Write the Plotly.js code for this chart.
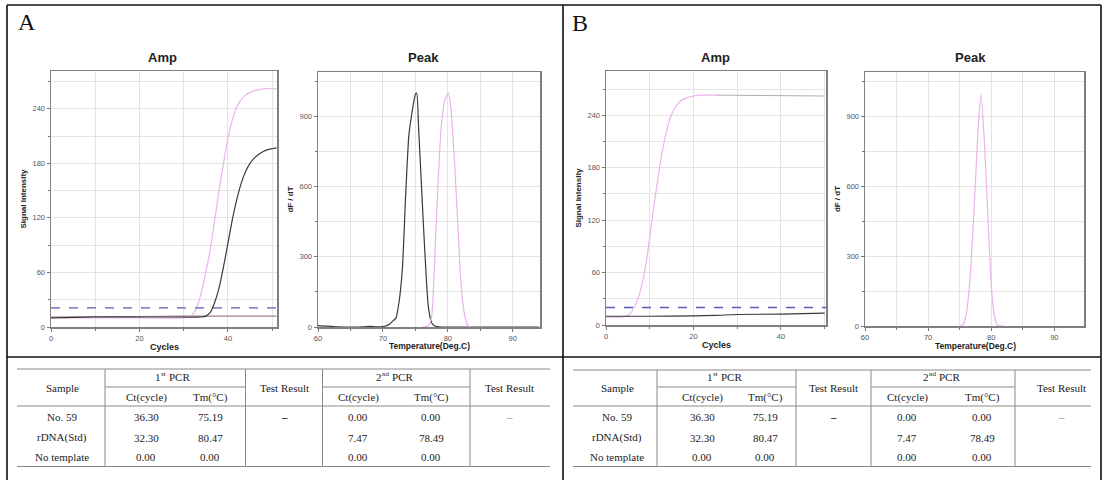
<!DOCTYPE html>
<html>
<head>
<meta charset="utf-8">
<script src="https://cdn.plot.ly/plotly-3.0.1.min.js"></script>
<style>html,body{margin:0;padding:0;background:#fff;}#chart{width:1108px;height:480px;}</style>
</head>
<body>
<div id="chart"></div>
<script>
// ---------------- DATA ----------------
// Panel A – Amp (cycles vs signal intensity)
const ampA_stdX = [0, 10, 20, 30, 31, 32, 33, 34, 35, 36, 37, 38, 39, 40, 41, 42, 43, 44, 45, 46, 47, 48, 49, 50, 51];
const ampA_stdY = [10, 10, 10, 10, 11, 14, 22, 38, 60, 85, 117, 150, 180, 207, 228, 242, 250, 255, 258, 260, 261, 262, 262, 262, 262];
const ampA_no59X = [0, 10, 20, 30, 34, 35, 36, 37, 38, 39, 40, 41, 42, 43, 44, 45, 46, 47, 48, 49, 50, 51];
const ampA_no59Y = [10, 11, 11, 11, 11, 12, 16, 27, 43, 66, 92, 118, 140, 158, 171, 180, 186, 190, 193, 195, 196, 197];
const ampA_ntcX = [0, 10, 20, 30, 40, 51];
const ampA_ntcY = [11, 11.5, 11.5, 12, 12, 12];
const ampA_thrX = [0, 51];
const ampA_thrY = [21, 21];

// Panel A – Peak (temperature vs dF/dT)
const peakA_no59X = [60, 61, 62, 63, 65, 67, 68, 69, 70, 70.5, 71, 71.5, 72, 72.5, 73, 73.5, 74, 74.5, 75, 75.2, 75.5, 76, 76.5, 77, 77.5, 78, 79, 85, 94];
const peakA_no59Y = [6, 4, 3, 1, 0, 1, 3, 1, 2, 5, 12, 25, 38, 110, 250, 560, 820, 920, 995, 1000, 850, 570, 300, 86, 18, 4, 0, 0, 0];
const peakA_stdX = [76, 77, 77.5, 78, 78.5, 79, 79.5, 80.1, 80.5, 81, 81.5, 82, 82.5, 83, 83.5];
const peakA_stdY = [0, 5, 45, 300, 620, 860, 965, 1000, 930, 720, 460, 200, 65, 10, 0];

// Panel B – Amp
const ampB_stdX = [0, 3, 4, 5, 6, 7, 8, 9, 10, 11, 12, 13, 14, 15, 16, 17, 18, 20, 22, 25];
const ampB_stdY = [9, 9, 9.5, 11, 16, 26, 42, 66, 100, 138, 172, 202, 225, 241, 250, 256, 259, 262, 263, 263];
const ampB_tailX = [25, 50];
const ampB_tailY = [263, 262];
const ampB_no59X = [0, 10, 20, 25, 30, 40, 50];
const ampB_no59Y = [10, 10, 10.5, 11, 12, 12.5, 13.5];
const ampB_thrX = [0, 50.3];
const ampB_thrY = [20, 20];

// Panel B – Peak
const peakB_stdX = [75, 75.5, 76, 76.5, 77, 77.5, 78, 78.4, 78.9, 79.4, 79.9, 80.4, 81, 82];
const peakB_stdY = [0, 5, 45, 155, 360, 620, 880, 995, 800, 511, 225, 60, 3, 0];

// Tables (identical in A and B)
const tableSamples = ["No. 59", "rDNA(Std)", "No template"];
const ct1 = ["36.30", "32.30", "0.00"];
const tm1 = ["75.19", "80.47", "0.00"];
const result1 = ["\u2013", "", ""];
const ct2 = ["0.00", "7.47", "0.00"];
const tm2 = ["0.00", "78.49", "0.00"];
const result2 = ["\u2013", "", ""];
const panelLabels = ["A", "B"];

// ---------------- LAYOUT HELPERS ----------------
const W = 1108, H = 480;
const px = x => x / W;
const py = y => 1 - y / H;

const PINK = '#ebb3eb', BLACK = '#3a3a3a', THR = '#5a5ab8', NTC = '#a08585';
const SANS = 'Liberation Sans, Arial, sans-serif';
const SERIF = 'Liberation Serif, Times New Roman, serif';

function axis(x0, x1, range, dtick, minor, tick0, anchor, isX, y0, y1, title) {
  const a = {
    domain: isX ? [px(x0), px(x1)] : [py(y1), py(y0)],
    range: range, dtick: dtick, tick0: tick0, tickmode: 'linear',
    showgrid: true, gridcolor: '#e4e4e4', gridwidth: 1,
    minor: {dtick: minor, tick0: tick0, showgrid: true, gridcolor: '#e4e4e4', ticks: 'outside', ticklen: 2, tickcolor: '#777'},
    ticks: 'outside', ticklen: 3, tickcolor: '#777',
    showline: true, linecolor: '#808080', linewidth: 1.5, mirror: true,
    zeroline: false, anchor: anchor, fixedrange: true, automargin: false,
    tickfont: {family: SANS, size: 7.5, color: '#555'}
  };
  if (title) a.title = {text: '<b>' + title + '</b>', font: {family: SANS, size: 8, color: '#222'}, standoff: 4};
  return a;
}

const ln = (x, y, xa, ya, color, width, dash) => ({
  x: x, y: y, xaxis: xa, yaxis: ya, mode: 'lines', hoverinfo: 'skip', showlegend: false,
  line: {color: color, width: width, shape: dash ? 'linear' : 'spline', smoothing: 0.6, dash: dash || 'solid'}
});

const traces = [
  ln(ampA_ntcX, ampA_ntcY, 'x', 'y', NTC, 1.1),
  ln(ampA_stdX, ampA_stdY, 'x', 'y', PINK, 1.2),
  ln(ampA_no59X, ampA_no59Y, 'x', 'y', BLACK, 1.2),
  ln(ampA_thrX, ampA_thrY, 'x', 'y', THR, 1.3, 'dash'),
  ln(peakA_no59X, peakA_no59Y, 'x2', 'y2', BLACK, 1.2),
  ln(peakA_stdX, peakA_stdY, 'x2', 'y2', PINK, 1.2),
  ln(ampB_tailX, ampB_tailY, 'x3', 'y3', '#b8a8b8', 1.0),
  ln(ampB_stdX, ampB_stdY, 'x3', 'y3', PINK, 1.2),
  ln(ampB_no59X, ampB_no59Y, 'x3', 'y3', BLACK, 1.2),
  ln(ampB_thrX, ampB_thrY, 'x3', 'y3', THR, 1.3, 'dash'),
  ln(peakB_stdX, peakB_stdY, 'x4', 'y4', PINK, 1.2)
];

const layout = {
  width: W, height: H, margin: {l: 0, r: 0, t: 0, b: 0},
  paper_bgcolor: '#fff', plot_bgcolor: '#fff', showlegend: false,
  xaxis:  axis(51, 277, [0, 51.1], 20, 10, 0, 'y', true),
  yaxis:  axis(0, 0, [0, 281.5], 60, 30, 0, 'x', false, 71, 327, 'Signal Intensity'),
  xaxis2: axis(318, 540, [60, 94.2], 10, 5, 60, 'y2', true),
  yaxis2: axis(0, 0, [0, 1090], 300, 150, 0, 'x2', false, 72, 327, 'dF / dT'),
  xaxis3: axis(606, 826, [0, 50.3], 20, 10, 0, 'y3', true),
  yaxis3: axis(0, 0, [0, 290.6], 60, 30, 0, 'x3', false, 71, 325, 'Signal Intensity'),
  xaxis4: axis(865, 1084, [60, 94.7], 10, 5, 60, 'y4', true),
  yaxis4: axis(0, 0, [0, 1092], 300, 150, 0, 'x4', false, 72, 326, 'dF / dT'),
  shapes: [], annotations: []
};

function hline(x0, x1, y, color, w) {
  layout.shapes.push({type: 'line', xref: 'paper', yref: 'paper', x0: px(x0), x1: px(x1), y0: py(y), y1: py(y), line: {color: color, width: w}});
}
function vline(x, y0, y1, color, w) {
  layout.shapes.push({type: 'line', xref: 'paper', yref: 'paper', x0: px(x), x1: px(x), y0: py(y0), y1: py(y1), line: {color: color, width: w}});
}
function text(t, x, y, size, opts) {
  opts = opts || {};
  layout.annotations.push({
    text: t, x: px(x), y: py(y), xref: 'paper', yref: 'paper', showarrow: false,
    xanchor: opts.xanchor || 'center', yanchor: opts.yanchor || 'middle', textangle: opts.angle || 0,
    borderpad: 0, borderwidth: 0,
    font: {family: opts.family || SERIF, size: size, color: opts.color || '#222'}
  });
}
function ordinalHeader(num, suf, cx, y, fs) {
  const sufW = suf === 'st' ? 5 : 7;
  text(num, cx - 14, y, fs, {xanchor: 'right'});
  text(suf, cx - 14, y - 3.5, 7, {xanchor: 'left'});
  text('PCR', cx - 14 + sufW + 3, y, fs, {xanchor: 'left'});
}

// Outer frame
hline(7, 1101, 5, '#111', 1.6);
hline(7, 1101, 357, '#111', 1.6);
vline(7, 5, 480, '#111', 1.6);
vline(563, 5, 480, '#111', 1.6);
vline(1101, 5, 480, '#111', 1.6);

// Panel labels
text(panelLabels[0], 18, 22, 24, {xanchor: 'left', color: '#111'});
text(panelLabels[1], 572, 23, 24, {xanchor: 'left', color: '#111'});

// Chart titles and x-axis titles
const titleFont = {family: SANS, color: '#222'};
text('<b>Amp</b>', 162, 57, 13, titleFont);
text('<b>Peak</b>', 423, 57, 13, titleFont);
text('<b>Amp</b>', 715, 57, 13, titleFont);
text('<b>Peak</b>', 970, 57, 13, titleFont);
text('<b>Cycles</b>', 164, 347, 9, titleFont);
text('<b>Temperature(Deg.C)</b>', 429, 346, 8.5, titleFont);
text('<b>Cycles</b>', 716, 345, 9, titleFont);
text('<b>Temperature(Deg.C)</b>', 975, 346, 8.5, titleFont);

// Tables
function drawTable(g) {
  const lc = '#8a8a8a';
  hline(g.left, g.right, g.top, lc, 1.2);
  hline(g.left, g.right, g.bottom, lc, 1.2);
  hline(g.left, g.right, 406, lc, 1);
  hline(g.s1, g.s2, 387, lc, 1);
  hline(g.s3, g.s4, 387, lc, 1);
  [g.s1, g.s2, g.s3, g.s4].forEach(s => vline(s, g.top, g.bottom, lc, 1));
  const fs = 11;
  text('Sample', g.c.sample, 388, fs);
  ordinalHeader('1', 'st', (g.s1 + g.s2) / 2, 377, fs);
  text('Test Result', g.c.tr1, 388, fs);
  ordinalHeader('2', 'nd', (g.s3 + g.s4) / 2, 377, fs);
  text('Test Result', g.c.tr2, 388, fs);
  text('Ct(cycle)', g.c.ct1, 397, fs);
  text('Tm(°C)', g.c.tm1, 397, fs);
  text('Ct(cycle)', g.c.ct2, 397, fs);
  text('Tm(°C)', g.c.tm2, 397, fs);
  const rowsY = [417, 437.5, 457];
  tableSamples.forEach((s, i) => {
    const y = rowsY[i];
    text(s, g.c.sample, y, fs);
    text(ct1[i], g.c.ct1, y, fs);
    text(tm1[i], g.c.tm1, y, fs);
    if (result1[i]) text('<b>' + result1[i] + '</b>', g.c.tr1, y, fs, {color: '#111'});
    text(ct2[i], g.c.ct2, y, fs);
    text(tm2[i], g.c.tm2, y, fs);
    if (result2[i]) text(result2[i], g.c.tr2, y, fs, {color: '#888'});
  });
}
drawTable({left: 17, right: 550, top: 369, bottom: 466.5, s1: 105, s2: 245.5, s3: 322.5, s4: 470,
  c: {sample: 62, ct1: 146, tm1: 210, tr1: 284, ct2: 358, tm2: 431, tr2: 509}});
drawTable({left: 573, right: 1091, top: 370, bottom: 466.5, s1: 657, s2: 796, s3: 871, s4: 1015,
  c: {sample: 617, ct1: 702, tm1: 765, tr1: 833, ct2: 907, tm2: 982, tr2: 1061}});

Plotly.newPlot('chart', traces, layout, {staticPlot: true, displayModeBar: false});
</script>
</body>
</html>
